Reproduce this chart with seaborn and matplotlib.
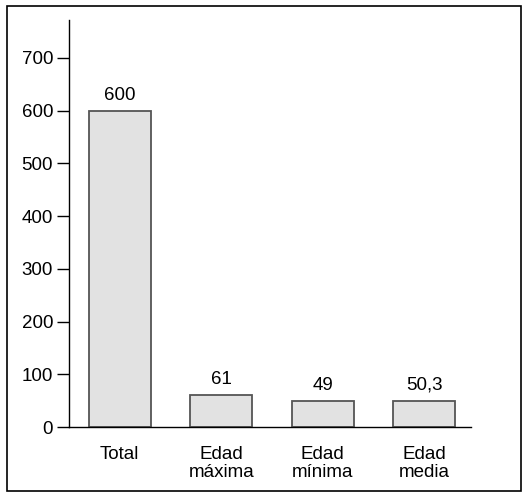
import matplotlib
matplotlib.use('Agg')
import matplotlib.pyplot as plt
import pandas as pd
import seaborn as sns
from matplotlib.patches import Rectangle

categories = ["Total", "Edad\nmáxima", "Edad\nmínima", "Edad\nmedia"]
values = [600, 61, 49, 50.3]
value_labels = ["600", "61", "49", "50,3"]
yticks = [0, 100, 200, 300, 400, 500, 600, 700]


def main():
	sns.set_style("white")
	plt.rcParams['font.family'] = ['Liberation Sans', 'DejaVu Sans']
	plt.rcParams['text.color'] = 'black'
	plt.rcParams['xtick.color'] = 'black'
	plt.rcParams['ytick.color'] = 'black'

	df = pd.DataFrame({"cat": categories, "val": values})

	fig = plt.figure(figsize=(5.25, 4.97), dpi=100)
	ax = fig.add_axes([0.1314, 0.1408, 0.766, 0.819])

	sns.barplot(data=df, x="cat", y="val", ax=ax, color="#e2e2e2",
		edgecolor="#555555", linewidth=1.3, width=0.61, saturation=1)

	for i, (v, lab) in enumerate(zip(values, value_labels)):
		ax.annotate(lab, (i, v), xytext=(0, 5), textcoords="offset points",
			ha="center", va="bottom", fontsize=13.5, color="black")

	ax.set_xlim(-0.5, 3.46)
	ax.set_ylim(0, 772)
	ax.set_yticks(yticks)
	ax.set_xlabel("")
	ax.set_ylabel("")

	for s in ["top", "right"]:
		ax.spines[s].set_visible(False)
	for s in ["left", "bottom"]:
		ax.spines[s].set_color("black")
		ax.spines[s].set_linewidth(1.0)

	ax.tick_params(axis="y", length=8.5, width=1.0, pad=3, labelsize=13.5,
		color="black", left=True)
	ax.tick_params(axis="x", length=0, pad=14, labelsize=13.5)
	for t in ax.get_xticklabels():
		t.set_linespacing(1.05)
		t.set_va("top")

	# outer frame
	fig.patches.append(Rectangle((7 / 525, 6 / 497), 514 / 525, 485 / 497,
		transform=fig.transFigure, fill=False, edgecolor="black", linewidth=1.2))

	fig.savefig("out.png", dpi=100)


if __name__ == "__main__":
	main()
